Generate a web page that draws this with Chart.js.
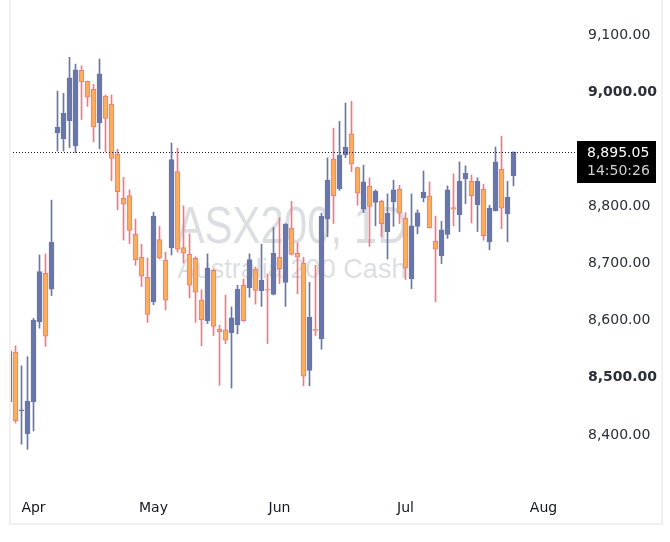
<!DOCTYPE html>
<html>
<head>
<meta charset="utf-8">
<script src="https://cdn.jsdelivr.net/npm/chart.js@4.4.1/dist/chart.umd.min.js"></script>
<style>
html, body { margin: 0; padding: 0; background: #fff; overflow: hidden; }
#wrap { position: relative; width: 670px; height: 542px; }
#frame { position: absolute; left: 9px; top: -2px; width: 654px; height: 527px; border: 2px solid #f0f0f0; box-sizing: border-box; pointer-events: none; }
</style>
</head>
<body>
<div id="wrap">
	<canvas id="candleChart" width="670" height="542"></canvas>
	<div id="frame"></div>
</div>
<script>
// daily sessions, index 0 = 26 Mar
var opens = [8458, 8545, 8442, 8402, 8458, 8598, 8683, 8655, 8929, 8918,
	8950, 8906, 9038, 9019, 9005, 8946, 8993, 8979, 8892, 8814,
	8819, 8751, 8711, 8676, 8633, 8742, 8706, 8728, 8861, 8728,
	8716, 8709, 8636, 8600, 8688, 8585, 8584, 8579, 8593, 8662,
	8658, 8690, 8652, 8654.5, 8646, 8711, 8667, 8762, 8718, 8701,
	8513, 8585, 8568, 8778, 8883, 8831, 8890, 8927, 8868, 8795,
	8835, 8807, 8809, 8756, 8808, 8830, 8779, 8673, 8765, 8815,
	8818, 8739, 8714, 8751, 8798, 8785, 8848, 8844, 8803, 8830,
	8738, 8792, 8865, 8787, 8854];
var highs = [8550, 8556, 8521, 8537, 8604, 8715, 8717, 8811, 9002, 8998,
	9061, 9049, 9046, 9019.5, 9014, 9058, 8995, 8995, 8900, 8851,
	8829, 8778, 8734, 8710, 8790, 8765, 8720, 8911, 8902, 8801,
	8752, 8712, 8654, 8717, 8690, 8592, 8645, 8624, 8662, 8673,
	8717, 8694, 8734, 8682, 8763, 8780, 8770, 8809, 8736, 8711,
	8667, 8697, 8788, 8885, 8937, 8949, 8981, 8984, 8869, 8872,
	8850, 8829, 8811, 8822, 8846, 8837, 8789, 8822, 8794, 8862,
	8843, 8783, 8774, 8836, 8857, 8878, 8871, 8855, 8850, 8839,
	8802, 8904, 8923, 8844, 8895.5];
var lows = [8455, 8421, 8384, 8375, 8407, 8587, 8555, 8644, 8897, 8897,
	8903, 8894, 8952, 8975, 8913, 8901, 8896, 8845, 8794, 8741,
	8735, 8697, 8660, 8597, 8628, 8708, 8619, 8715, 8720, 8701,
	8640, 8597, 8556, 8595, 8574, 8487, 8560, 8482, 8577, 8599,
	8641, 8629, 8625, 8560, 8645, 8665, 8625, 8715, 8647, 8486,
	8486, 8574, 8550, 8747, 8770, 8828, 8885, 8861, 8802, 8789,
	8730, 8766, 8747, 8708, 8765, 8770, 8672, 8656, 8752, 8808,
	8762, 8633, 8700, 8744, 8766, 8756, 8805, 8771, 8756, 8741,
	8724, 8792, 8761, 8738, 8836];
var closes = [8547, 8425, 8444, 8459, 8601, 8686, 8573, 8737, 8939, 8963,
	9025, 9039, 9018, 8991, 8939, 9032, 8954, 8884, 8826, 8804,
	8758, 8707, 8678, 8611, 8783, 8710, 8636, 8882, 8725, 8718,
	8662, 8650, 8602, 8692, 8590, 8581, 8566, 8605, 8655, 8600,
	8707, 8653, 8671, 8653.5, 8718, 8691, 8769, 8716, 8711, 8503,
	8606, 8583, 8783, 8846, 8819, 8890, 8904, 8874, 8823, 8843,
	8800, 8827, 8770, 8788, 8829, 8788, 8692, 8766, 8789, 8825,
	8763, 8725, 8759, 8829, 8795, 8844, 8858, 8819, 8844, 8749,
	8797, 8878, 8797, 8816, 8895.05];

var monthLabels = ['Apr', 'May', 'Jun', 'Jul', 'Aug'];
var monthStarts = [4, 24, 45, 66, 89];
var priceTicks = [8400, 8500, 8600, 8700, 8800, 8900, 9000, 9100];

var lastPrice = 8895.05;
var lastTime = '14:50:26';
var symbolTitle = 'ASX200, 1D';
var symbolName = 'Australia 200 Cash';

var upColor = '#6877ab';
var downFill = '#fbac5d';
var downLine = '#f7767f';

var isUp = closes.map(function(c, i) { return c >= opens[i]; });

var bodyData = opens.map(function(o, i) { return { x: i, y: [o, closes[i]] }; });
var wickData = lows.map(function(l, i) { return { x: i, y: [l, highs[i]] }; });

function drawFitted(ctx, text, cx, baseY, width, font) {
	ctx.font = font;
	var w = ctx.measureText(text).width;
	ctx.save();
	ctx.translate(cx, baseY);
	ctx.scale(width / w, 1);
	ctx.fillText(text, 0, 0);
	ctx.restore();
}

var watermark = {
	id: 'watermark',
	beforeDatasetsDraw: function(chart) {
		var ctx = chart.ctx;
		ctx.save();
		ctx.fillStyle = 'rgba(120,123,134,0.25)';
		ctx.textAlign = 'center';
		ctx.textBaseline = 'alphabetic';
		drawFitted(ctx, symbolTitle, 292, 243, 231, '52px "Liberation Sans"');
		drawFitted(ctx, symbolName, 292, 278, 229, '28px "Liberation Sans"');
		ctx.restore();
	}
};

var priceLine = {
	id: 'priceLine',
	afterDatasetsDraw: function(chart) {
		var ctx = chart.ctx, area = chart.chartArea;
		var y = Math.round(chart.scales.y.getPixelForValue(lastPrice)) + 0.5;
		ctx.save();
		ctx.strokeStyle = '#131722';
		ctx.lineWidth = 1;
		ctx.setLineDash([1, 2]);
		ctx.beginPath();
		ctx.moveTo(area.left, y);
		ctx.lineTo(area.right + 2, y);
		ctx.stroke();
		ctx.restore();
	},
	afterDraw: function(chart) {
		var ctx = chart.ctx, area = chart.chartArea;
		var y = Math.round(chart.scales.y.getPixelForValue(lastPrice));
		ctx.save();
		ctx.fillStyle = '#000';
		ctx.fillRect(area.right + 2, y - 11, 79, 42);
		ctx.textAlign = 'left';
		ctx.textBaseline = 'middle';
		ctx.font = '14px "DejaVu Sans"';
		ctx.fillStyle = '#ffffff';
		ctx.fillText(lastPrice.toLocaleString('en-US', { minimumFractionDigits: 2 }), area.right + 12, y + 1);
		ctx.fillStyle = '#cfcfcf';
		ctx.fillText(lastTime, area.right + 12, y + 19);
		ctx.restore();
	}
};

var candleChart = new Chart(document.getElementById('candleChart').getContext('2d'), {
	type: 'bar',
	data: {
		datasets: [{
			label: 'body',
			data: bodyData,
			backgroundColor: isUp.map(function(u) { return u ? upColor : downFill; }),
			borderColor: isUp.map(function(u) { return u ? upColor : downLine; }),
			borderWidth: 1,
			borderSkipped: false,
			barThickness: 5,
			minBarLength: 1,
			grouped: false,
			order: 0
		}, {
			label: 'wick',
			data: wickData,
			backgroundColor: isUp.map(function(u) { return u ? upColor : downLine; }),
			borderWidth: 0,
			barThickness: 1,
			grouped: false,
			order: 1
		}]
	},
	options: {
		responsive: false,
		animation: false,
		layout: { padding: { left: 10, top: 0, right: 0, bottom: 0 } },
		plugins: {
			legend: { display: false },
			tooltip: { enabled: false }
		},
		scales: {
			x: {
				type: 'linear',
				offset: false,
				min: 0.0833,
				max: 94.25,
				grid: { display: false, drawTicks: false },
				border: { display: false },
				afterBuildTicks: function(scale) {
					scale.ticks = monthStarts.map(function(v) { return { value: v }; });
				},
				afterFit: function(scale) {
					scale.height = 54;
					scale.paddingLeft = 0;
					scale.paddingRight = 0;
				},
				ticks: {
					autoSkip: false,
					maxRotation: 0,
					padding: 12,
					color: '#131722',
					font: { family: '"DejaVu Sans"', size: 14 },
					callback: function(value) {
						var k = monthStarts.indexOf(value);
						return k >= 0 ? monthLabels[k] : '';
					}
				}
			},
			y: {
				position: 'right',
				min: 8307.25,
				max: 9161.25,
				grid: { display: false, drawTicks: false },
				border: { display: false },
				afterBuildTicks: function(scale) {
					scale.ticks = priceTicks.map(function(v) { return { value: v }; });
				},
				afterFit: function(scale) {
					scale.width = 95;
					scale.paddingTop = 0;
					scale.paddingBottom = 0;
				},
				ticks: {
					padding: 13,
					color: '#2a2e39',
					font: function(ctx) {
						var v = ctx.tick ? ctx.tick.value : 0;
						return { family: '"DejaVu Sans"', size: 14, weight: v % 500 === 0 ? 'bold' : 'normal' };
					},
					callback: function(value) {
						return value.toLocaleString('en-US', { minimumFractionDigits: 2, maximumFractionDigits: 2 });
					}
				}
			}
		}
	},
	plugins: [watermark, priceLine]
});
</script>
</body>
</html>
